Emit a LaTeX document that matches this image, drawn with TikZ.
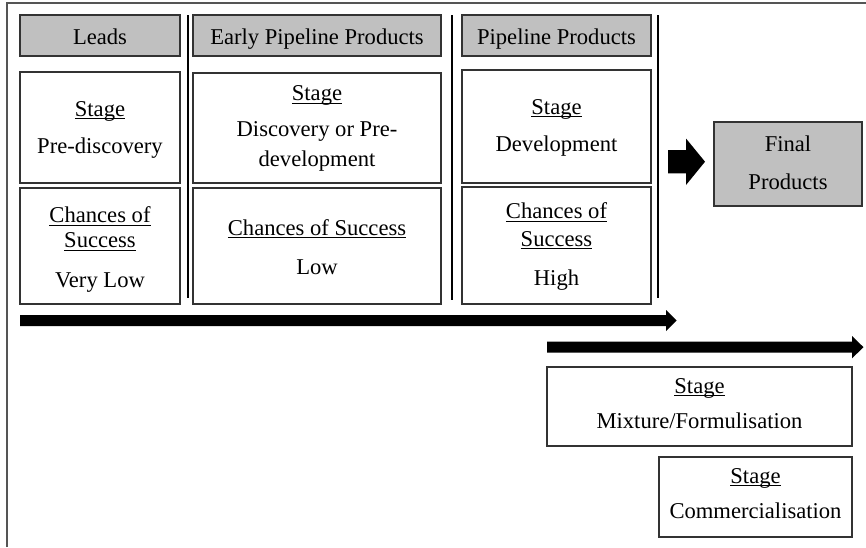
\documentclass[tikz,border=0pt]{standalone}
\usepackage{fontspec}
\setmainfont{Liberation Serif}
\usetikzlibrary{fit}
\newcommand{\myul}[1]{\underline{\smash{#1}}}
\definecolor{hdrgray}{HTML}{C0C0C0}
\definecolor{framegray}{HTML}{555555}
\definecolor{boxline}{HTML}{333333}
\begin{document}
\begin{tikzpicture}[x=0.5pt,y=-0.5pt,
  box/.style={draw=boxline, line width=0.65pt, inner sep=0pt, fill=white},
  hdr/.style={box, fill=hdrgray},
  txt/.style={inner sep=0pt, anchor=base, font=\fontsize{11.3}{13}\selectfont},
  sep/.style={draw=black, line width=0.8pt},
  bigarrow/.style={fill=black}]
\useasboundingbox (0,0) rectangle (866,547);
% frame (top and left visible)
\draw[framegray, line width=0.65pt] (7,547) -- (7,3) -- (866,3);

% header boxes
\node[hdr, fit={(20,15) (180,56)}] (hLeads) {};
\node[hdr, fit={(193,15) (441,56)}] (hEarly) {};
\node[hdr, fit={(462,15) (651,56)}] (hPipe) {};
\node[txt] (tLeads) at (100,44) {Leads};
\node[txt] (tEarly) at (317,44) {Early Pipeline Products};
\node[txt] (tPipe) at (556.5,44) {Pipeline Products};

% separators
\coordinate (s1a) at (188,15); \coordinate (s1b) at (188,298);
\coordinate (s2a) at (452,15); \coordinate (s2b) at (452,300);
\coordinate (s3a) at (658,15); \coordinate (s3b) at (658,298);
\draw[sep] (s1a) -- (s1b);
\draw[sep] (s2a) -- (s2b);
\draw[sep] (s3a) -- (s3b);

% stage boxes
\node[box, fit={(20,72) (180,183)}] (sLeads) {};
\node[box, fit={(193,73) (441,183)}] (sEarly) {};
\node[box, fit={(462,70) (651,183)}] (sPipe) {};
\node[txt] (sL1) at (100,116) {\myul{Stage}};
\node[txt] (sL2) at (100,153) {Pre-discovery};
\node[txt] (sE1) at (317,100.5) {\myul{Stage}};
\node[txt] (sE2) at (317,136.5) {Discovery or Pre-};
\node[txt] (sE3) at (317,166) {development};
\node[txt] (sP1) at (556.5,114) {\myul{Stage}};
\node[txt] (sP2) at (556.5,151.5) {Development};

% chances boxes
\node[box, fit={(20,188) (180,304)}] (cLeads) {};
\node[box, fit={(193,188) (441,304)}] (cEarly) {};
\node[box, fit={(462,187) (651,304)}] (cPipe) {};
\node[txt] (cL1) at (100,222.5) {\myul{Chances of}};
\node[txt] (cL2) at (100,247.5) {\myul{Success}};
\node[txt] (cL3) at (100,287) {Very Low};
\node[txt] (cE1) at (317,235) {\myul{Chances of Success}};
\node[txt] (cE2) at (317,274) {Low};
\node[txt] (cP1) at (556.5,218.5) {\myul{Chances of}};
\node[txt] (cP2) at (556.5,246) {\myul{Success}};
\node[txt] (cP3) at (556.5,285) {High};

% block arrow to final products
\fill[bigarrow] (668,150) -- (686,150) -- (686,138.5) -- (705,161.7) -- (686,185) -- (686,173.3) -- (668,173.3) -- cycle;

% final products
\node[hdr, fit={(714,122) (862,206)}] (final) {};
\node[txt] (f1) at (788,151.5) {Final};
\node[txt] (f2) at (788,189.3) {Products};

% long arrows
\fill[bigarrow] (20,315) -- (666,315) -- (666,310) -- (676.5,320.5) -- (666,331) -- (666,326) -- (20,326) -- cycle;
\fill[bigarrow] (547,341.7) -- (852,341.7) -- (852,336) -- (863.5,347.2) -- (852,358.3) -- (852,352.7) -- (547,352.7) -- cycle;

% mixture / commercialisation
\node[box, fit={(547,367) (852,446)}] (mix) {};
\node[txt] (m1) at (699.5,393) {\myul{Stage}};
\node[txt] (m2) at (699.5,428) {Mixture/Formulisation};
\node[box, fit={(659,457) (852,537)}] (comm) {};
\node[txt] (k1) at (755.5,483) {\myul{Stage}};
\node[txt] (k2) at (755.5,518) {Commercialisation};
\end{tikzpicture}
\end{document}
